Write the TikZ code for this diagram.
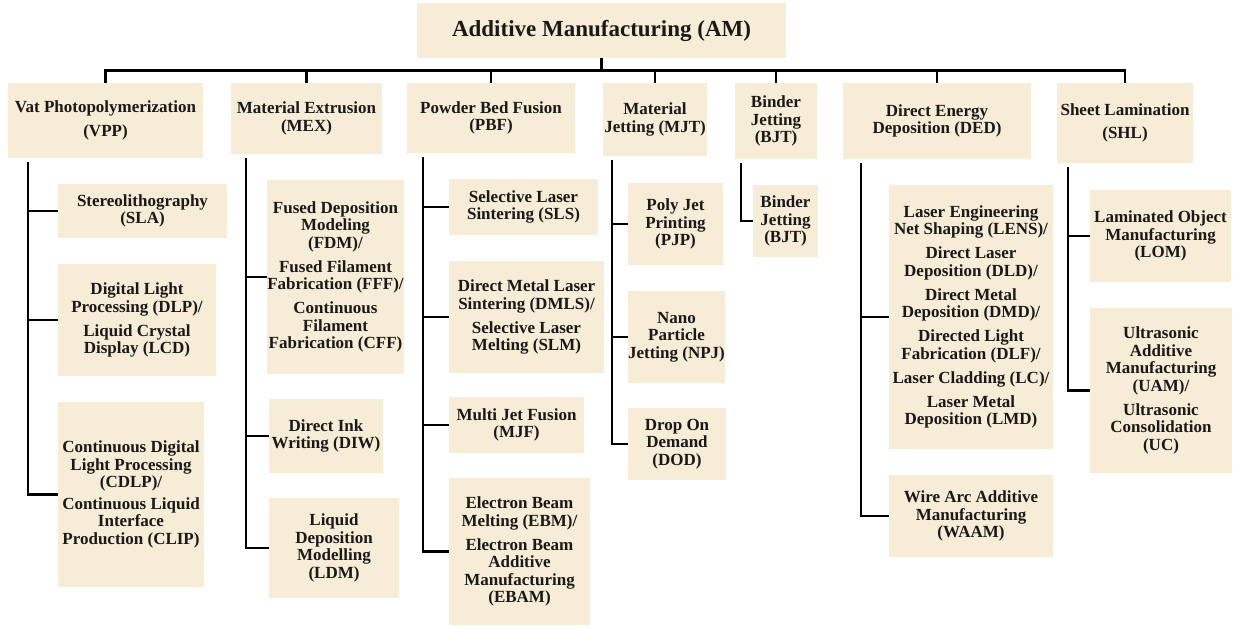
\documentclass[tikz,border=0pt]{standalone}
\usepackage{fontspec}
\setmainfont{Liberation Serif}
\usetikzlibrary{positioning}

\definecolor{parch}{RGB}{247,236,213}

\tikzset{
  box/.style={fill=parch, draw=none, inner sep=0pt, align=center,
    font=\fontsize{17}{17.5}\selectfont\bfseries, text=black!90},
  conn/.style={draw=black, line width=2.6pt},
}
% gap inserted between alternative names inside one box
\newcommand{\altgap}{\\[6.5pt]}

\begin{document}
\begin{tikzpicture}[x=1pt,y=-1pt]
\useasboundingbox (0,0) rectangle (1234,629);

% root
\node[box, minimum width=369pt, minimum height=55pt,
      font=\fontsize{23}{26}\selectfont\bfseries] (am) at (601.5,30.5)
  {Additive Manufacturing (AM)};

% process categories
\node[box, minimum width=195pt, minimum height=75pt] (vpp) at (105.5,120.5)
  {Vat Photopolymerization\\[6pt](VPP)};
\node[box, minimum width=151pt, minimum height=71pt] (mex) at (306.5,118.5)
  {Material Extrusion\\(MEX)};
\node[box, minimum width=168pt, minimum height=70pt] (pbf) at (491,118)
  {Powder Bed Fusion\\(PBF)};
\node[box, minimum width=104pt, minimum height=73pt] (mjt) at (655,119.5)
  {Material\\Jetting (MJT)};
\node[box, minimum width=82pt, minimum height=76pt] (bjt) at (776,121)
  {Binder\\Jetting\\(BJT)};
\node[box, minimum width=188pt, minimum height=76pt] (ded) at (937,121)
  {Direct Energy\\Deposition (DED)};
\node[box, minimum width=136pt, minimum height=80pt] (shl) at (1125,123)
  {Sheet Lamination\\[6pt](SHL)};

% vat photopolymerization
\node[box, minimum width=169pt, minimum height=54pt] (sla) at (142.5,211)
  {Stereolithography\\(SLA)};
\node[box, minimum width=158pt, minimum height=112pt] (dlp) at (137,320)
  {Digital Light\\Processing (DLP)/\altgap Liquid Crystal\\Display (LCD)};
\node[box, minimum width=146pt, minimum height=185pt] (cdlp) at (131,494.5)
  {Continuous Digital\\Light Processing\\(CDLP)/\\[4pt]Continuous Liquid\\Interface\\Production (CLIP)};

% material extrusion
\node[box, minimum width=133pt, minimum height=194pt] (fdm) at (335.5,277)
  {Fused Deposition\\Modeling\\(FDM)/\altgap Fused Filament\\Fabrication (FFF)/\altgap Continuous\\Filament\\Fabrication (CFF)};
\node[box, minimum width=114pt, minimum height=74pt] (diw) at (326,436)
  {Direct Ink\\Writing (DIW)};
\node[box, minimum width=130pt, minimum height=100pt] (ldm) at (334,548)
  {Liquid\\Deposition\\Modelling\\(LDM)};

% powder bed fusion
\node[box, minimum width=149pt, minimum height=56pt] (sls) at (523.5,207)
  {Selective Laser\\Sintering (SLS)};
\node[box, minimum width=155pt, minimum height=112pt] (dmls) at (526.5,317)
  {Direct Metal Laser\\Sintering (DMLS)/\altgap Selective Laser\\Melting (SLM)};
\node[box, minimum width=135pt, minimum height=56pt] (mjf) at (516.5,425)
  {Multi Jet Fusion\\(MJF)};
\node[box, minimum width=141pt, minimum height=147pt] (ebm) at (519.5,551.5)
  {Electron Beam\\Melting (EBM)/\altgap Electron Beam\\Additive\\Manufacturing\\(EBAM)};

% material jetting
\node[box, minimum width=95pt, minimum height=82pt] (pjp) at (675.5,224)
  {Poly Jet\\Printing\\(PJP)};
\node[box, minimum width=97pt, minimum height=92pt] (npj) at (676.5,337)
  {Nano\\Particle\\Jetting (NPJ)};
\node[box, minimum width=98pt, minimum height=72pt] (dod) at (677,444)
  {Drop On\\Demand\\(DOD)};

% binder jetting
\node[box, minimum width=65pt, minimum height=72pt] (bjtp) at (785.5,221)
  {Binder\\Jetting\\(BJT)};

% directed energy deposition
\node[box, minimum width=164pt, minimum height=264pt] (lens) at (971,317)
  {Laser Engineering\\Net Shaping (LENS)/\altgap Direct Laser\\Deposition (DLD)/\altgap
   Direct Metal\\Deposition (DMD)/\altgap Directed Light\\Fabrication (DLF)/\altgap
   Laser Cladding (LC)/\altgap Laser Metal\\Deposition (LMD)};
\node[box, minimum width=164pt, minimum height=82pt] (waam) at (971,516)
  {Wire Arc Additive\\Manufacturing\\(WAAM)};

% sheet lamination
\node[box, minimum width=141pt, minimum height=92pt] (lom) at (1160.5,236)
  {Laminated Object\\Manufacturing\\(LOM)};
\node[box, minimum width=142pt, minimum height=165pt] (uam) at (1161,390.5)
  {Ultrasonic\\Additive\\Manufacturing\\(UAM)/\altgap Ultrasonic\\Consolidation\\(UC)};

% root to categories
\coordinate (bar) at (601.5,70.5);
\draw[conn] (am.south) -- (bar);
\draw[conn] (vpp.north) |- (bar) -| (shl.north);
\foreach \c in {mex,pbf,mjt,bjt,ded}
  \draw[conn] (\c.north) -- (\c.north |- bar);

% categories to processes
\foreach \p/\dx/\kids in {vpp/20/{sla,dlp,cdlp}, mex/15/{fdm,diw,ldm},
    pbf/16/{sls,dmls,mjf,ebm}, mjt/9/{pjp,npj,dod}, bjt/6/{bjtp},
    ded/18/{lens,waam}, shl/11/{lom,uam}}
  \foreach \k in \kids
    \draw[conn] ([xshift=\dx pt,yshift=-4pt]\p.south west) |- (\k.west);

\end{tikzpicture}
\end{document}
